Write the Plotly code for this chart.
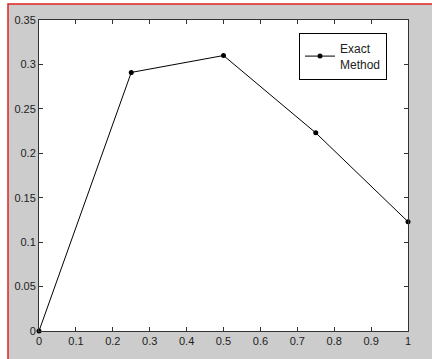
import plotly.graph_objects as go

x_vals = [0, 0.25, 0.5, 0.75, 1.0]
y_exact = [0, 0.291, 0.310, 0.223, 0.123]
series_name = "Exact<br>Method"
x_ticks = [0, 0.1, 0.2, 0.3, 0.4, 0.5, 0.6, 0.7, 0.8, 0.9, 1]
x_tick_text = ["0", "0.1", "0.2", "0.3", "0.4", "0.5", "0.6", "0.7", "0.8", "0.9", "1"]
y_ticks = [0, 0.05, 0.1, 0.15, 0.2, 0.25, 0.3, 0.35]
y_tick_text = ["0", "0.05", "0.1", "0.15", "0.2", "0.25", "0.3", "0.35"]

W, H = 432, 359
L, R, T, B = 39, 24, 20, 28
pw, ph = W - L - R, H - T - B

def px(p):
    return (p - L) / pw

def py(p):
    return (H - B - p) / ph

fig = go.Figure()
fig.add_trace(go.Scatter(
    x=x_vals, y=y_exact, mode="lines+markers", name=series_name,
    line=dict(color="black", width=1),
    marker=dict(color="black", size=5, symbol="circle"),
    cliponaxis=False,
))

axis_common = dict(
    showgrid=False, zeroline=False, showline=True, linecolor="#333333", linewidth=1,
    mirror="ticks", ticks="inside", ticklen=4, tickcolor="#333333",
    tickfont=dict(family="Liberation Sans, Arial", size=11, color="#222222"),
)
fig.update_xaxes(range=[0, 1], tickvals=x_ticks, ticktext=x_tick_text, **axis_common)
fig.update_yaxes(range=[0, 0.35], tickvals=y_ticks, ticktext=y_tick_text, **axis_common)

fig.add_shape(type="rect", xref="paper", yref="paper",
              x0=px(8), x1=px(440), y0=py(365), y1=py(4),
              fillcolor="#cccccc", line=dict(color="#dd2222", width=1.5), layer="below")
fig.add_shape(type="rect", xref="paper", yref="paper",
              x0=0, x1=1, y0=0, y1=1,
              fillcolor="white", line=dict(width=0), layer="below")

fig.update_layout(
    width=W, height=H,
    margin=dict(l=L, r=R, t=T, b=B),
    paper_bgcolor="white", plot_bgcolor="white",
    showlegend=True,
    legend=dict(x=px(299), y=py(33), xanchor="left", yanchor="top",
                bgcolor="white", bordercolor="black", borderwidth=1,
                font=dict(family="Liberation Sans, Arial", size=12, color="#222222"),
                itemwidth=30),
)

fig.write_html("out.html", config={"displayModeBar": False},
               post_script="document.body.style.margin='0px';")
